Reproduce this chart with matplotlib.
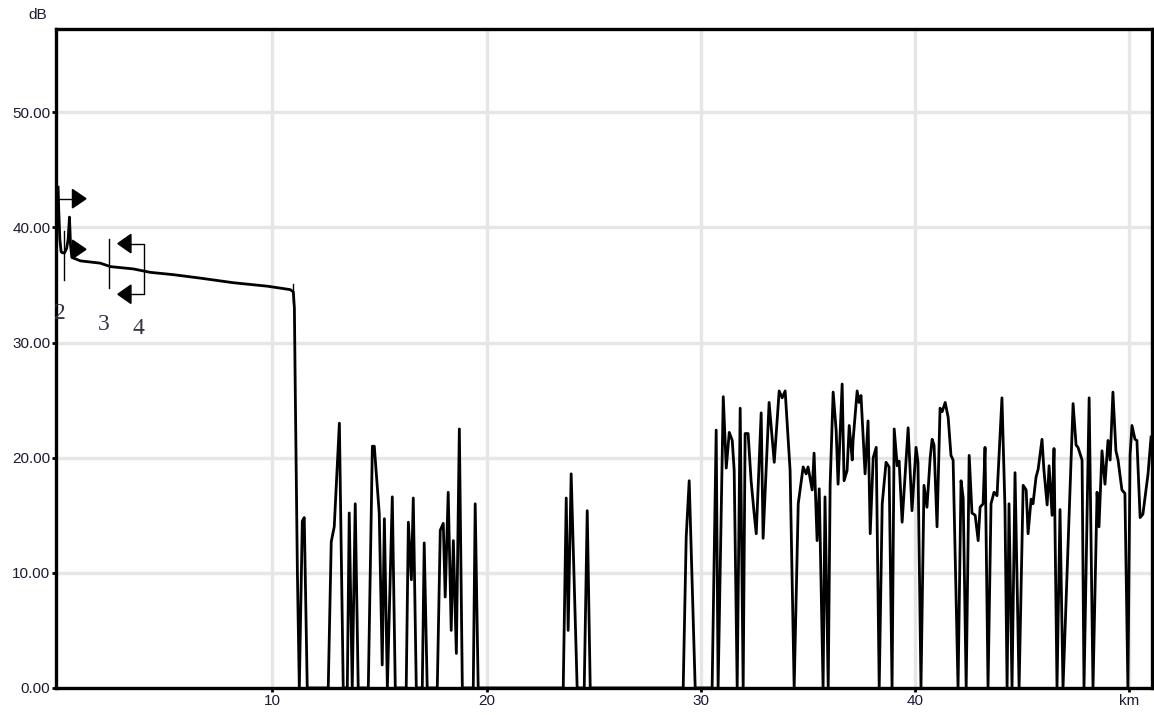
import matplotlib
matplotlib.use('Agg')
import numpy as np
import matplotlib.pyplot as plt

# трасса рефлектограммы: расстояние (км) и уровень (дБ)
dist_km = [
    0.00, 0.03, 0.08, 0.14, 0.20, 0.30, 0.40, 0.47, 0.53, 0.58, 0.64,
    1.04, 1.97, 2.44, 3.51, 4.31, 5.38, 6.64, 8.18, 9.77, 10.84, 10.98,
    11.03, 11.07, 11.17, 11.26,
    11.40, 11.49, 11.63, 12.61, 12.75, 12.89, 13.13, 13.31, 13.50, 13.59,
    13.73, 13.87, 14.01, 14.48, 14.67, 14.76, 14.99, 15.13, 15.23, 15.37,
    15.60, 15.74, 16.25, 16.35, 16.49, 16.58, 16.72, 17.00, 17.09, 17.23,
    17.70, 17.84, 17.98, 18.07, 18.21, 18.35, 18.45, 18.59, 18.73, 18.87,
    19.38, 19.47, 19.61,
    23.58, 23.72, 23.81, 23.95, 24.23, 24.56, 24.70, 24.84,
    29.18, 29.32, 29.46, 29.74,
    30.53, 30.72, 30.81, 31.05, 31.19, 31.33, 31.47, 31.56, 31.70, 31.84,
    31.98, 32.07, 32.21, 32.35, 32.49, 32.59, 32.82, 32.91, 33.19, 33.33,
    33.43, 33.66, 33.80, 33.94, 34.17, 34.36, 34.55, 34.78, 34.92, 35.01,
    35.20, 35.29, 35.43, 35.53, 35.71, 35.80, 35.95, 36.04, 36.18, 36.32,
    36.41, 36.60, 36.69, 36.83, 36.93, 37.07, 37.11, 37.30, 37.39, 37.48,
    37.67, 37.81, 37.91, 38.05, 38.19, 38.33, 38.47, 38.65, 38.79, 38.93,
    39.03, 39.17, 39.26, 39.40, 39.68, 39.86, 40.05, 40.14, 40.28, 40.42,
    40.56, 40.71, 40.80, 40.89, 41.03, 41.17, 41.27, 41.41, 41.55, 41.68,
    41.78, 42.01, 42.15, 42.25, 42.39, 42.53, 42.66, 42.81, 42.95, 43.04,
    43.18, 43.27, 43.41, 43.55, 43.69, 43.83, 44.06, 44.20, 44.30, 44.39,
    44.53, 44.67, 44.86, 45.05, 45.19, 45.28, 45.42, 45.51, 45.65, 45.75,
    45.93, 46.02, 46.17, 46.26, 46.40, 46.49, 46.63, 46.77, 46.91, 47.38,
    47.52, 47.61, 47.80, 47.89, 48.13, 48.31, 48.50, 48.59, 48.73, 48.87,
    49.01, 49.11, 49.24, 49.38, 49.48, 49.66, 49.80, 49.94, 50.04, 50.13,
    50.27, 50.36, 50.51, 50.64, 50.88, 51.02,
]
level_db = [
    43.5, 41.5, 39.0, 37.9, 37.8, 37.8, 38.2, 39.0, 40.9, 38.5, 37.4,
    37.1, 36.9, 36.6, 36.4, 36.1, 35.9, 35.6, 35.2, 34.9, 34.6, 34.4,
    33.0, 26.0, 10.0, 0.0,
    14.5, 14.8, 0.0, 0.0, 12.7, 14.0, 23.0, 0.0, 0.0, 15.2,
    0.0, 16.0, 0.0, 0.0, 21.0, 21.0, 15.2, 2.0, 14.7, 0.0,
    16.6, 0.0, 0.0, 14.4, 9.4, 16.5, 0.0, 0.0, 12.6, 0.0,
    0.0, 13.7, 14.3, 7.9, 17.0, 5.0, 12.8, 3.0, 22.5, 0.0,
    0.0, 16.0, 0.0,
    0.0, 16.5, 5.0, 18.6, 0.0, 0.0, 15.4, 0.0,
    0.0, 13.1, 18.0, 0.0,
    0.0, 22.4, 0.0, 25.3, 19.1, 22.2, 21.5, 18.9, 0.0, 24.3,
    0.0, 22.1, 22.1, 18.0, 15.2, 13.4, 23.9, 13.0, 24.8, 21.8,
    19.6, 25.8, 25.2, 25.8, 18.9, 0.0, 16.0, 19.2, 18.6, 19.2,
    17.2, 20.4, 12.8, 17.3, 0.0, 16.6, 0.0, 17.7, 25.7, 22.4,
    17.7, 26.4, 18.0, 18.9, 22.8, 19.8, 21.5, 25.8, 24.8, 25.4,
    18.6, 23.2, 13.4, 20.0, 20.9, 0.0, 16.0, 19.6, 19.2, 0.0,
    22.5, 19.3, 19.7, 14.4, 22.6, 15.4, 20.9, 19.6, 0.0, 17.6,
    15.7, 20.0, 21.6, 21.1, 14.0, 24.3, 24.0, 24.8, 23.5, 20.2,
    19.8, 0.0, 18.0, 16.5, 0.0, 20.2, 15.2, 15.0, 12.8, 15.7,
    16.0, 20.9, 0.0, 16.0, 17.0, 16.7, 25.2, 15.7, 0.0, 16.0,
    0.0, 18.7, 0.0, 17.6, 17.2, 13.4, 16.4, 16.0, 18.3, 19.0,
    21.6, 18.9, 15.9, 19.3, 15.0, 20.8, 0.0, 15.5, 0.0, 24.7,
    21.1, 20.9, 19.8, 0.0, 25.2, 0.0, 17.0, 14.0, 20.6, 17.7,
    21.5, 19.8, 25.7, 20.6, 19.8, 17.2, 16.9, 0.0, 20.2, 22.8,
    21.6, 21.5, 14.8, 15.1, 18.6, 21.8,
]

# маркеры событий
mark_labels = ['2', '3', '4']
mark_label_km = [0.06, 2.11, 3.74]
mark_label_db = [32.5, 31.6, 31.2]

x_ticks = [10, 20, 30, 40, 50]
x_tick_labels = ['10', '20', '30', '40', 'km']
y_ticks = [0, 10, 20, 30, 40, 50]

fig = plt.figure(figsize=(11.54, 7.15), dpi=100)
ax = fig.add_axes([0.0485, 0.0378, 0.9495, 0.921])

ax.plot(dist_km, level_db, color='black', lw=2.0, zorder=3)

# маркеры
k = dict(color='black', lw=1.0, zorder=4)
ax.plot([0.0, 0.67], [42.5, 42.5], **k)
ax.fill([0.67, 1.30, 0.67], [43.3, 42.5, 41.7], color='black', zorder=4)
ax.plot([0.29, 0.29], [35.4, 39.7], **k)
ax.fill([0.67, 1.30, 0.67], [38.9, 38.1, 37.3], color='black', zorder=4)
ax.plot([2.39, 2.39], [34.7, 39.0], **k)
ax.plot([3.40, 4.03, 4.03, 3.40], [38.6, 38.6, 34.2, 34.2], **k)
ax.fill([3.40, 2.79, 3.40], [39.4, 38.6, 37.8], color='black', zorder=4)
ax.fill([3.40, 2.79, 3.40], [35.0, 34.2, 33.4], color='black', zorder=4)
ax.plot([10.98, 10.98], [33.5, 35.1], **k)

for lab, xk, yd in zip(mark_labels, mark_label_km, mark_label_db):
    ax.text(xk, yd, lab, fontsize=17, family='Liberation Serif',
            color='#333344', ha='center', va='center')

ax.set_xlim(-0.1, 51.05)
ax.set_ylim(0, 57.2)
ax.set_xticks(x_ticks)
ax.set_xticklabels(x_tick_labels)
ax.set_yticks(y_ticks)
ax.set_yticklabels(['%.2f' % v for v in y_ticks])
ax.grid(True, color='#e6e6e6', lw=2.4, zorder=0)
ax.set_axisbelow(True)

for s in ax.spines.values():
    s.set_linewidth(2.4)
    s.set_color('black')

ax.tick_params(axis='both', direction='out', length=3, width=2, color='black',
               labelsize=11, labelcolor='#1a1a33', pad=1)
for t in ax.get_xticklabels() + ax.get_yticklabels():
    t.set_family('Liberation Sans')

fig.text(38 / 1154, 1 - 15 / 715, 'dB', fontsize=11, family='Liberation Sans',
         color='#1a1a33', ha='center', va='center')

fig.savefig('out.png', dpi=100)
